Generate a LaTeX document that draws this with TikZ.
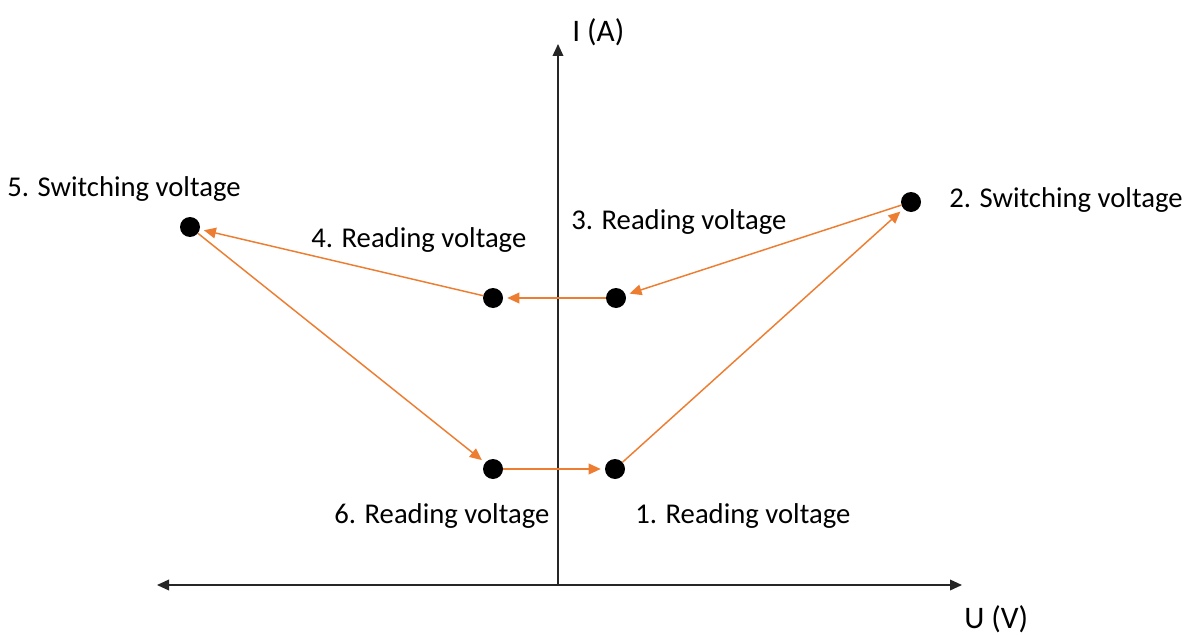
\documentclass[tikz,border=0pt]{standalone}
\usepackage{fontspec}
\setmainfont{Carlito}
\usetikzlibrary{arrows.meta}
\definecolor{orangeA}{HTML}{ED7D31}
\begin{document}
\begin{tikzpicture}[x=0.75pt,y=-0.75pt,
  dot/.style={circle,fill=black,inner sep=0pt,minimum size=15pt},
  axis/.style={line width=1.1pt,color=black!85,-{Triangle[length=9pt,width=8pt]}},
  link/.style={line width=1.1pt,color=orangeA,-{Triangle[length=9pt,width=8pt]},shorten >=3pt},
  lbl/.style={font=\fontsize{21.5}{24}\selectfont,anchor=base west,inner sep=0pt},
  axlbl/.style={font=\fontsize{23.5}{26}\selectfont,anchor=base west,inner sep=0pt}]
\useasboundingbox (0,0) rectangle (1200,635);
\coordinate (o) at (558,585);
\coordinate (ytop) at (558,44);
\coordinate (xl) at (157,585);
\coordinate (xr) at (962,585);
\draw[axis] (o) -- (ytop);
\draw[axis] (o) -- (xl);
\draw[axis] (o) -- (xr);
\node[axlbl] (ylab) at (572,42) {I (A)};
\node[axlbl] (xlab) at (964,628) {U (V)};
\node[dot] (p1) at (615,469) {};
\node[dot] (p2) at (911,202) {};
\node[dot] (p3) at (616,298) {};
\node[dot] (p4) at (493,298) {};
\node[dot] (p5) at (190,227) {};
\node[dot] (p6) at (493,469) {};
\draw[link] (p1) -- (p2);
\draw[link] (p2) -- (p3);
\draw[link] (p3) -- (p4);
\draw[link] (p4) -- (p5);
\draw[link] (p5) -- (p6);
\draw[link] (p6) -- (p1);
\node[lbl] (l1) at (635,523) {1. Reading voltage};
\node[lbl] (l2) at (949,207) {2. Switching voltage};
\node[lbl] (l3) at (571,229) {3. Reading voltage};
\node[lbl] (l4) at (311,247) {4. Reading voltage};
\node[lbl] (l5) at (7,196) {5. Switching voltage};
\node[lbl] (l6) at (334,523) {6. Reading voltage};
\end{tikzpicture}
\end{document}
